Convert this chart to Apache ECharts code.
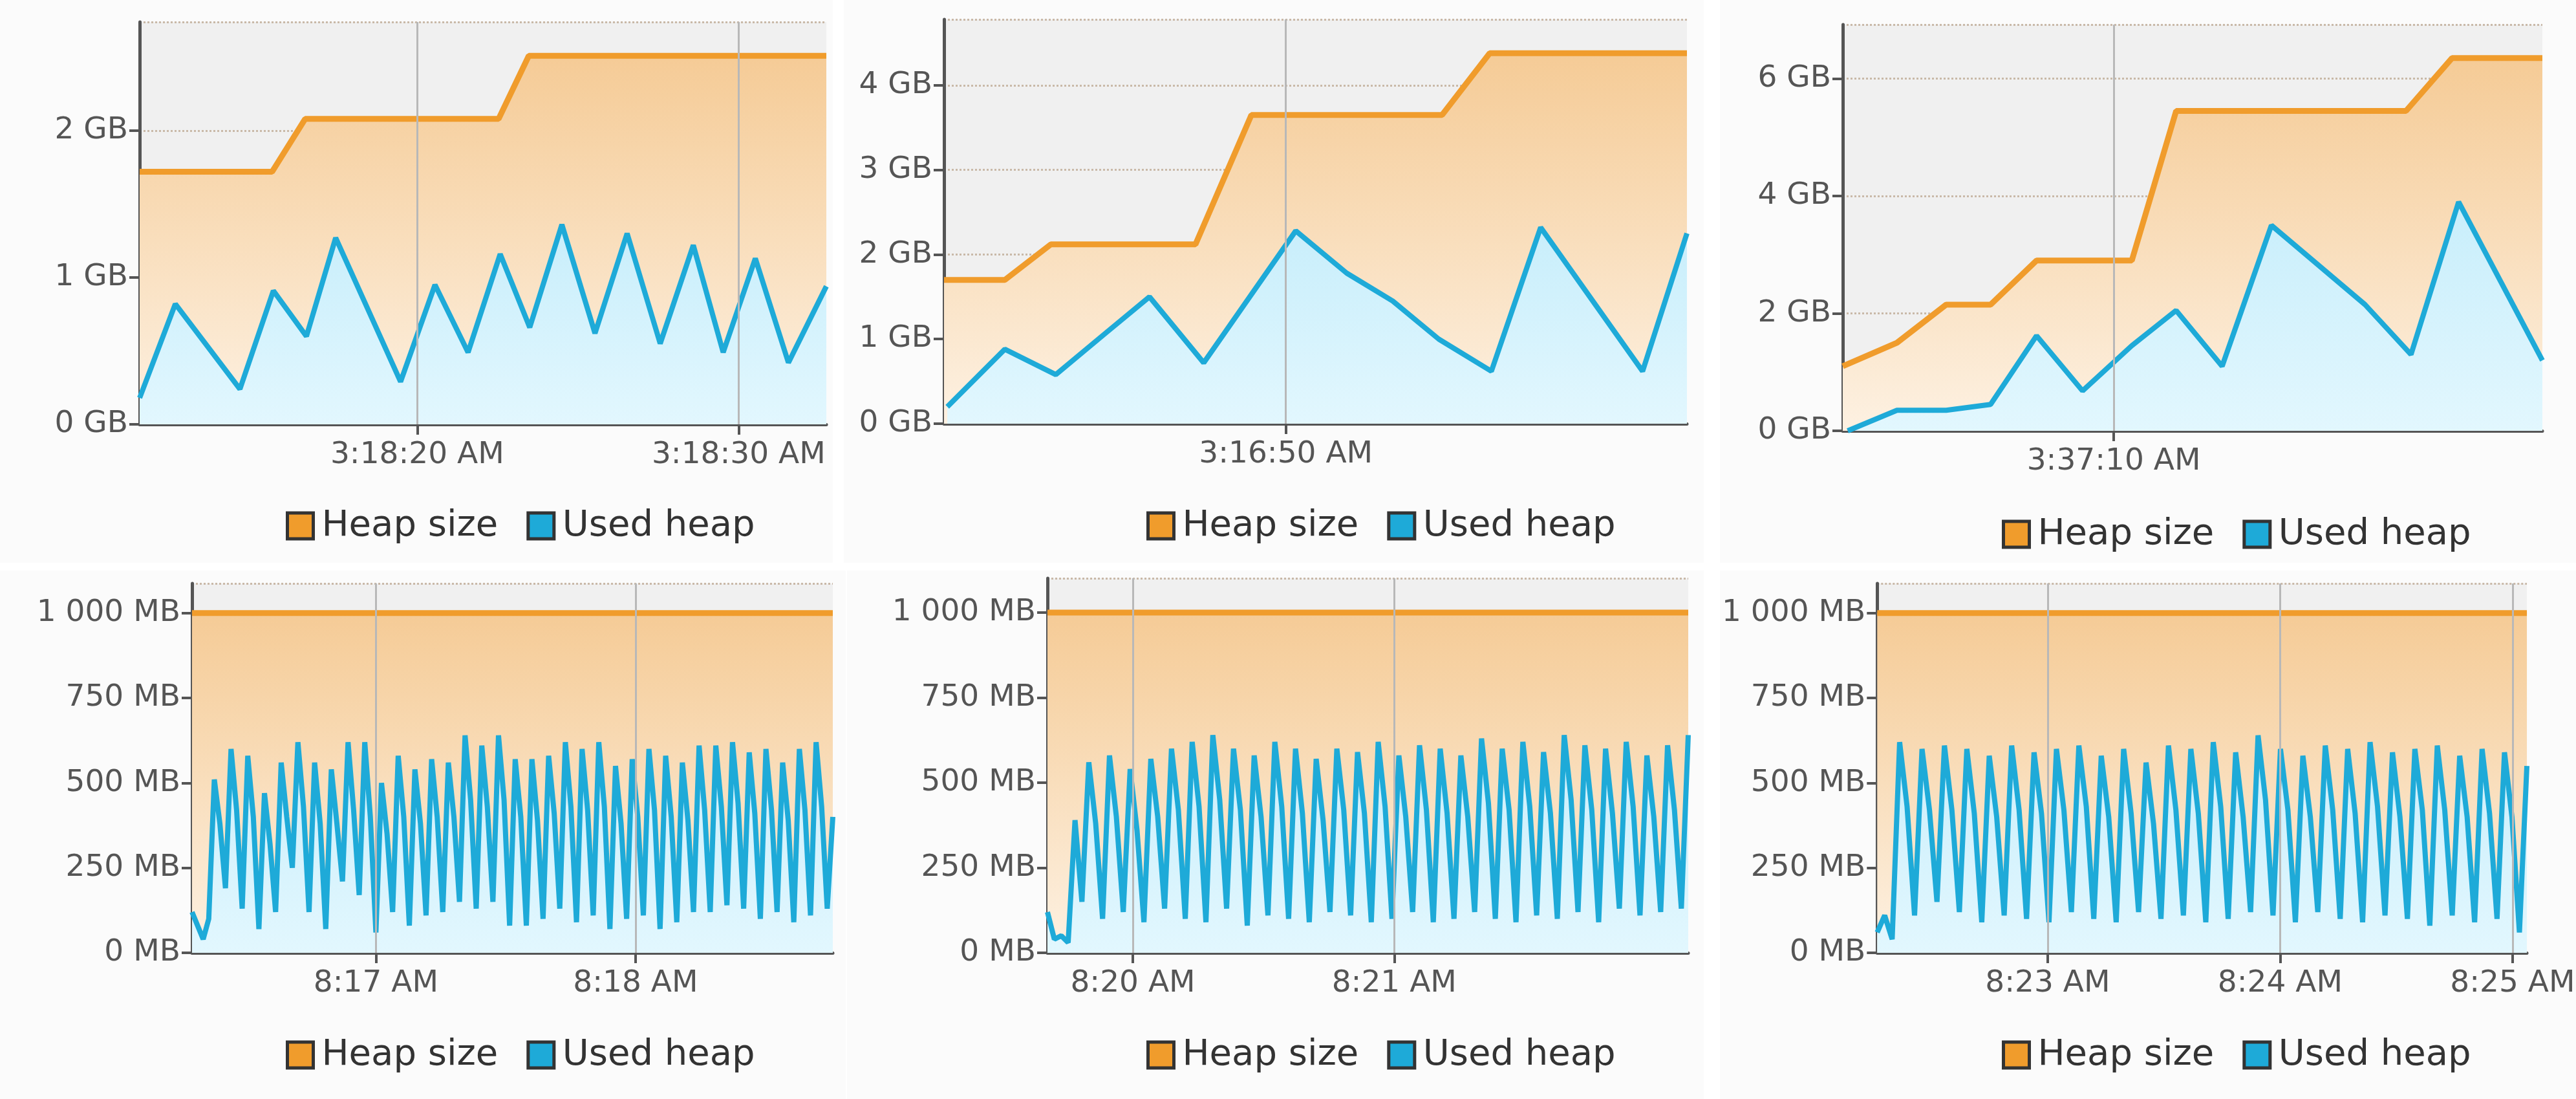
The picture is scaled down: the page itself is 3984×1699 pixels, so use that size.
<!DOCTYPE html>
<html>
<head>
<meta charset="utf-8">
<script src="https://cdn.jsdelivr.net/npm/echarts@6/dist/echarts.min.js"></script>
<style>
  body { margin: 0; background: #ffffff; width: 3984px; height: 1699px; overflow: hidden; }
  .panel { position: absolute; background: #fbfbfb; overflow: hidden; }
</style>
</head>
<body>
<div id="p1" class="panel" style="left:0;top:0;width:1288px;height:870px"></div>
<div id="p2" class="panel" style="left:1305px;top:0;width:1330px;height:870px"></div>
<div id="p3" class="panel" style="left:2660px;top:0;width:1324px;height:870px"></div>
<div id="p4" class="panel" style="left:0;top:882px;width:1308px;height:817px"></div>
<div id="p5" class="panel" style="left:1310px;top:882px;width:1325px;height:817px"></div>
<div id="p6" class="panel" style="left:2660px;top:882px;width:1324px;height:817px"></div>
<script>
// x values are seconds after the base minute of each panel
const heap1X = [11.36, 15.48, 16.51, 22.53, 23.47, 32.73];
const heap1Y = [1.72, 1.72, 2.08, 2.08, 2.51, 2.51];
const used1X = [11.36, 12.47, 14.48, 15.52, 16.55, 17.46, 19.48, 20.55, 21.58, 22.58, 23.5, 24.5, 25.53, 26.53, 27.56, 28.59, 29.52, 30.52, 31.55, 32.73];
const used1Y = [0.18, 0.82, 0.24, 0.91, 0.6, 1.27, 0.29, 0.95, 0.49, 1.16, 0.66, 1.36, 0.62, 1.30, 0.55, 1.22, 0.49, 1.13, 0.42, 0.94];

const heap2X = [39.6, 41.45, 42.85, 47.25, 48.95, 54.75, 56.2, 62.2];
const heap2Y = [1.7, 1.7, 2.12, 2.12, 3.65, 3.65, 4.38, 4.38];
const used2X = [39.7, 41.45, 43.0, 44.45, 45.85, 47.5, 50.3, 51.85, 53.25, 54.65, 56.25, 57.75, 60.85, 62.2];
const used2Y = [0.2, 0.88, 0.58, 1.05, 1.5, 0.72, 2.28, 1.78, 1.45, 1.0, 0.62, 2.32, 0.62, 2.25];

const heap3X = [1.75, 3.4, 4.9, 6.25, 7.65, 10.55, 11.9, 18.9, 20.3, 23.05];
const heap3Y = [1.1, 1.5, 2.15, 2.15, 2.9, 2.9, 5.45, 5.45, 6.35, 6.35];
const used3X = [1.9, 3.4, 4.9, 6.25, 7.65, 9.05, 10.55, 11.9, 13.3, 14.8, 17.65, 19.05, 20.5, 23.05];
const used3Y = [0.0, 0.35, 0.35, 0.45, 1.62, 0.68, 1.45, 2.05, 1.1, 3.5, 2.15, 1.3, 3.9, 1.2];

const used4 = [120, 80, 40, 100, 510, 380, 190, 600, 420, 130, 580, 400, 70, 470, 320, 120, 560, 400, 250, 620, 430, 120,
  560, 380, 70, 540, 380, 210, 620, 420, 170, 620, 400, 60, 500, 350, 120, 580, 400, 80, 540, 380, 110, 570, 400, 120,
  560, 400, 150, 640, 450, 130, 610, 430, 150, 640, 450, 80, 570, 400, 80, 570, 390, 100, 580, 410, 130, 620, 430, 90,
  600, 420, 110, 620, 430, 70, 550, 380, 100, 570, 400, 110, 600, 420, 70, 580, 400, 90, 560, 390, 120, 610, 420, 120,
  610, 430, 140, 620, 440, 130, 590, 410, 100, 600, 420, 120, 560, 390, 90, 600, 420, 110, 620, 430, 130, 400];
const used5 = [120, 40, 50, 30, 390, 150, 560, 380, 100, 580, 400, 120, 540, 360, 90, 570, 400, 130, 600, 420, 100,
  620, 430, 90, 640, 450, 130, 600, 420, 80, 580, 400, 110, 620, 430, 100, 600, 410, 90, 570, 390, 120, 600, 420, 110,
  590, 410, 90, 620, 430, 100, 580, 400, 120, 610, 420, 90, 600, 410, 100, 580, 400, 120, 630, 440, 100, 600, 420, 90,
  620, 430, 110, 590, 410, 100, 640, 450, 120, 610, 420, 90, 600, 410, 130, 620, 430, 110, 580, 400, 120, 610, 420, 130, 640];
const used6 = [60, 110, 40, 620, 430, 110, 600, 420, 150, 610, 420, 120, 600, 410, 90, 580, 400, 110, 610, 420, 100,
  590, 410, 90, 600, 420, 120, 610, 430, 100, 580, 400, 90, 600, 410, 120, 560, 380, 100, 610, 420, 110, 600, 410, 90,
  620, 430, 100, 590, 400, 120, 640, 450, 110, 600, 420, 90, 580, 400, 120, 610, 420, 100, 600, 410, 90, 620, 430, 110,
  590, 400, 100, 600, 420, 80, 610, 420, 110, 580, 400, 90, 600, 410, 100, 590, 400, 60, 550];

const heapColor = '#f09c2c';
const usedColor = '#1eaad8';

function pairs(xs, ys) { return xs.map((x, i) => [x, ys[i]]); }
function spread(vals, x0, x1) {
  const step = (x1 - x0) / (vals.length - 1);
  return vals.map((v, i) => [x0 + i * step, v]);
}
function pad(n) { return n < 10 ? '0' + n : '' + n; }

function makeChart(id, cfg) {
  const chart = echarts.init(document.getElementById(id));
  const fmtX = v => {
    const total = cfg.baseMin * 60 + v;
    const h = Math.floor(total / 3600), m = Math.floor(total / 60) % 60, s = Math.round(total % 60);
    return cfg.showSec ? h + ':' + pad(m) + ':' + pad(s) + ' AM' : h + ':' + pad(m) + ' AM';
  };
  chart.setOption({
    animation: false,
    textStyle: { fontFamily: 'DejaVu Sans' },
    grid: { left: cfg.grid[0], top: cfg.grid[1], width: cfg.grid[2], height: cfg.grid[3],
      show: true, backgroundColor: '#f0f0f0', borderWidth: 0 },
    legend: {
      left: cfg.legend[0], top: cfg.legend[1], itemWidth: 40, itemHeight: 40, itemGap: 44,
      textStyle: { fontSize: 56, color: '#333', padding: [0, 0, 0, 8] },
      data: [
        { name: 'Heap size', icon: 'rect', itemStyle: { color: heapColor, borderColor: '#333', borderWidth: 5 } },
        { name: 'Used heap', icon: 'rect', itemStyle: { color: usedColor, borderColor: '#333', borderWidth: 5 } }
      ]
    },
    xAxis: {
      type: 'value', min: cfg.xMin, max: cfg.xMax,
      axisLine: { onZero: false, lineStyle: { color: '#555', width: 5 } },
      axisTick: { customValues: cfg.ticks, length: 16, lineStyle: { color: '#555', width: 4 } },
      axisLabel: { customValues: cfg.ticks, formatter: fmtX, fontSize: 47, color: '#555', margin: 24 },
      splitLine: { show: false }
    },
    yAxis: {
      type: 'value', min: 0, max: cfg.yMax, interval: cfg.yInt,
      axisLine: { show: true, lineStyle: { color: '#555', width: 5 } },
      axisTick: { show: true, length: 16, lineStyle: { color: '#555', width: 4 } },
      axisLabel: { fontSize: 47, color: '#555', margin: 18, showMaxLabel: false,
        formatter: v => (cfg.unit === 'MB' ? String(v).replace(/\B(?=(\d{3})+$)/g, ' ') : v) + ' ' + cfg.unit },
      splitLine: { lineStyle: { color: '#c9b9a8', type: 'dotted', width: 3 } }
    },
    series: [
      {
        name: 'Heap size', type: 'line', data: cfg.heap, symbol: 'none',
        lineStyle: { color: heapColor, width: 9 }, itemStyle: { color: heapColor },
        areaStyle: { origin: 'start', opacity: 1, color: new echarts.graphic.LinearGradient(0, 0, 0, 1,
          [{ offset: 0, color: '#f5cb96' }, { offset: 1, color: '#fdf1e2' }]) },
        markLine: { silent: true, symbol: 'none', label: { show: false },
          lineStyle: { color: '#b8b8b8', type: 'solid', width: 3 },
          data: cfg.ticks.map(t => ({ xAxis: t })) },
        z: 2
      },
      {
        name: 'Used heap', type: 'line', data: cfg.used, symbol: 'none',
        lineStyle: { color: usedColor, width: 8 }, itemStyle: { color: usedColor },
        areaStyle: { origin: 'start', opacity: 1, color: new echarts.graphic.LinearGradient(0, 0, 0, 1,
          [{ offset: 0, color: '#c8eefb' }, { offset: 1, color: '#e2f7fe' }]) },
        z: 3
      }
    ]
  });
}

makeChart('p1', { grid: [216, 34, 1062, 622], legend: [437, 780], xMin: 11.36, xMax: 32.73, ticks: [20, 30],
  baseMin: 3 * 60 + 18, showSec: true, yMax: 2.74, yInt: 1, unit: 'GB',
  heap: pairs(heap1X, heap1Y), used: pairs(used1X, used1Y) });
makeChart('p2', { grid: [155, 30, 1149, 625], legend: [463, 780], xMin: 39.6, xMax: 62.2, ticks: [50],
  baseMin: 3 * 60 + 16, showSec: true, yMax: 4.78, yInt: 1, unit: 'GB',
  heap: pairs(heap2X, heap2Y), used: pairs(used2X, used2Y) });
makeChart('p3', { grid: [190, 38, 1082, 628], legend: [431, 793], xMin: 1.75, xMax: 23.05, ticks: [10],
  baseMin: 3 * 60 + 37, showSec: true, yMax: 6.92, yInt: 2, unit: 'GB',
  heap: pairs(heap3X, heap3Y), used: pairs(used3X, used3Y) });
makeChart('p4', { grid: [297, 20, 991, 571], legend: [437, 716], xMin: 17.5, xMax: 165.6, ticks: [60, 120],
  baseMin: 8 * 60 + 16, showSec: false, yMax: 1087, yInt: 250, unit: 'MB',
  heap: [[17.5, 1000], [165.6, 1000]], used: spread(used4, 17.5, 165.6) });
makeChart('p5', { grid: [310, 12, 991, 579], legend: [458, 716], xMin: 40.4, xMax: 187.5, ticks: [60, 120],
  baseMin: 8 * 60 + 19, showSec: false, yMax: 1101, yInt: 250, unit: 'MB',
  heap: [[40.4, 1000], [187.5, 1000]], used: spread(used5, 40.4, 187.5) });
makeChart('p6', { grid: [177, 20, 1095, 571], legend: [431, 716], xMin: 16, xMax: 183.7, ticks: [60, 120, 180],
  baseMin: 8 * 60 + 22, showSec: false, yMax: 1087, yInt: 250, unit: 'MB',
  heap: [[16, 1000], [183.7, 1000]], used: spread(used6, 16, 183.7) });
</script>
</body>
</html>
